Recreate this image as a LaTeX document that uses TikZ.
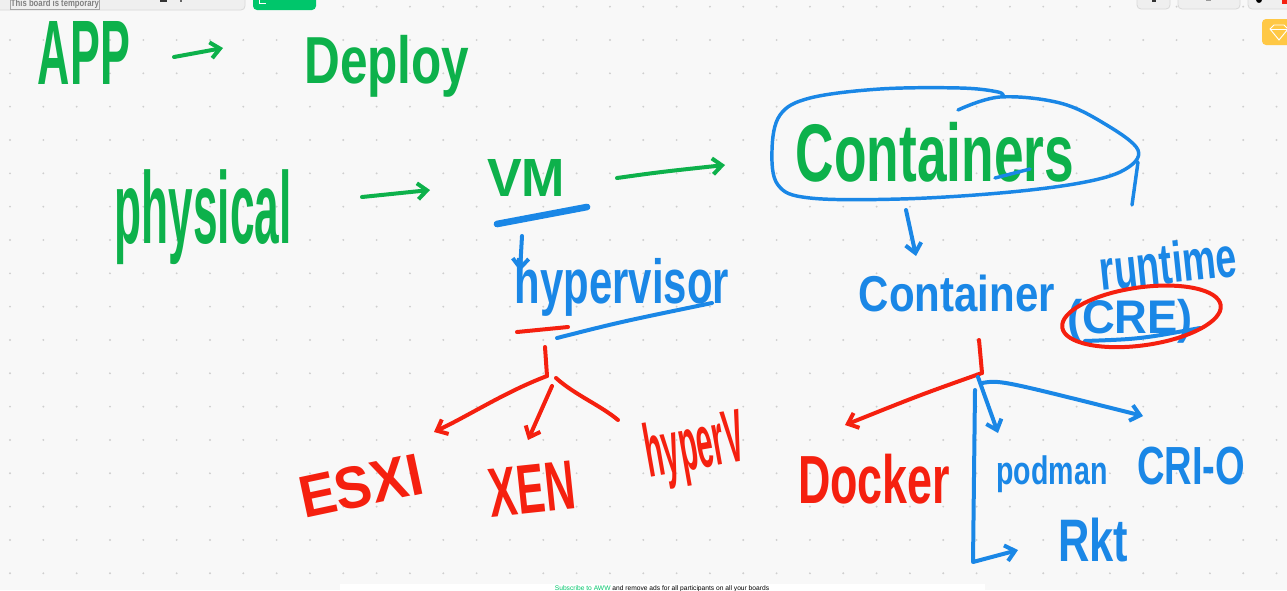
\documentclass[tikz,border=0pt]{standalone}
\usepackage{fontspec}
\setmainfont{Liberation Sans}
\usepackage{graphicx}
\usetikzlibrary{arrows.meta}
\newdimen\pxu \pxu=0.75pt
\newcommand{\hw}[3]{\resizebox*{#1\pxu}{#2\pxu}{#3}}
\definecolor{mgreen}{HTML}{0DB14B}
\definecolor{mblue}{HTML}{1A87E6}
\definecolor{mred}{HTML}{F5200F}
\definecolor{bgc}{HTML}{F8F8F8}
\definecolor{dotc}{HTML}{CFCFCF}
\definecolor{panel}{HTML}{EFEFEF}
\definecolor{panelline}{HTML}{D9D9D9}
\definecolor{btngreen}{HTML}{00C66B}
\definecolor{badge}{HTML}{FFC845}
\begin{document}
\begin{tikzpicture}[x=0.75pt,y=-0.75pt,
  hand/.style={inner sep=0pt,outer sep=0pt,font=\bfseries},
  stroke/.style={line width=3pt,line cap=round,line join=round},
  arr/.style={stroke,-{Straight Barb[length=7pt,width=12pt]}},
  ui/.style={fill=panel,draw=panelline,line width=0.6pt,rounded corners=3pt}]
\useasboundingbox (0,0) rectangle (1287,590);
\fill[bgc] (0,0) rectangle (1287,590);
% dot grid
\foreach \i in {0,...,38}{\foreach \j in {0,...,17}{
  \fill[dotc] (10+33.33*\i,6.67+33.33*\j) circle (0.8pt);}}

% ---- UI chrome ----
\draw[ui] (-6,-8) rectangle (245,10);
\node[draw=gray!70,line width=0.5pt,inner sep=0.6pt,text=gray] (tmp) at (55,4)
  {\resizebox{88\pxu}{7\pxu}{\bfseries This board is temporary}};
\fill[black!80] (160,-2) rectangle (167,2);
\fill[black!60] (180,0) rectangle (182,2);
\fill[btngreen,rounded corners=3pt] (253,-8) rectangle (316,10);
\draw[white,line width=0.6pt] (259,-2) -- (259,3) -- (266,3);
\draw[ui] (1137,-8) rectangle (1170,9);
\draw[ui] (1178,-8) rectangle (1240,9);
\draw[ui] (1248,-8) rectangle (1295,9);
\fill[black!80] (1152,-2) rectangle (1156,2);
\fill[black!40] (1206,-2) rectangle (1211,1);
\fill[black] (1259,0) circle (2.2pt);
\fill[mred] (1282,-2) rectangle (1287,4);
\fill[badge,rounded corners=3pt] (1262,19) rectangle (1295,45);
\draw[white,line width=0.7pt] (1270,29) -- (1274,25) -- (1284,25) -- (1288,29) -- (1279,40) -- cycle;
\draw[white,line width=0.5pt] (1270,29) -- (1288,29);
\fill[white] (340,584) rectangle (985,596);
\node[inner sep=0pt,font=\tiny] (ad) at (662,589)
  {\textcolor{btngreen}{Subscribe to AWW} and remove ads for all participants on all your boards};

% ---- green texts ----
\node[hand,text=mgreen] (app) at (84,53) {\hw{92}{63}{APP}};
\node[hand,text=mgreen] (deploy) at (387,66) {\hw{165}{62}{Deploy}};
\node[hand,text=mgreen] (phys) at (203,217) {\hw{177}{95}{physical}};
\node[hand,text=mgreen] (vm) at (526,178) {\hw{78}{37}{VM}};
\node[hand,text=mgreen] (cont) at (935,152) {\hw{278}{60}{Containers}};

\coordinate (a1) at (174,57);  \coordinate (a2) at (223,48);
\coordinate (p1) at (362,197); \coordinate (p2) at (430,190);
\coordinate (v1) at (617,178); \coordinate (v2) at (725,165);
\draw[arr,mgreen] (a1) -- (a2);
\draw[arr,mgreen] (p1) -- (p2);
\draw[arr,mgreen] (v1) .. controls (660,172) .. (v2);

% ---- containers blob ----
\draw[stroke,mblue,line width=2.6pt] plot[smooth,tension=0.6] coordinates
 {(958,110) (1000,97) (1060,103) (1105,124) (1138,150) (1124,170) (1080,183)
  (1000,193) (900,199) (810,198) (778,185) (772,150) (780,115) (810,98)
  (880,89) (960,88) (998,92) (1003,97)};
\coordinate (t1) at (1138,162); \coordinate (t2) at (1132,205);
\draw[stroke,mblue,line width=2.6pt] (t1) -- (t2);
\coordinate (u1) at (995,178); \coordinate (u2) at (1030,169);
\draw[stroke,mblue,line width=2.6pt] (u1) -- (u2);

% ---- VM branch ----
\coordinate (vu1) at (497,224); \coordinate (vu2) at (587,207);
\draw[mblue,line width=5pt,line cap=round] (vu1) -- (vu2);
\coordinate (h0) at (522,236);
\node[hand,text=mblue] (hyper) at (622,287) {\hw{214}{58}{hypervisor}};
\draw[arr,mblue] (h0) -- (520,271);
\coordinate (r1) at (517,332); \coordinate (r2) at (568,327);
\draw[stroke,mred] (r1) -- (r2);
\coordinate (b1) at (557,338); \coordinate (b2) at (712,303);
\draw[stroke,mblue] (b1) .. controls (620,322) .. (b2);

% hypervisor tree
\coordinate (hs1) at (545,347); \coordinate (hs2) at (547,376);
\draw[stroke,mred] (hs1) -- (hs2);
\node[hand,text=mred,rotate=12] (esxi) at (361,486) {\hw{125}{42}{ESXI}};
\node[hand,text=mred,rotate=6] (xen) at (532,489) {\hw{86}{48}{XEN}};
\node[hand,text=mred,rotate=10] (hyperv) at (695,450) {\hw{100}{70}{hyperV}};
\draw[arr,mred] (hs2) .. controls (505,392) and (470,415) .. (434,432);
\draw[arr,mred] (552,386) -- (528,440);
\draw[stroke,mred] (556,378) .. controls (575,395) and (600,405) .. (618,420);

% ---- container runtime ----
\coordinate (c1) at (906,210);
\node[hand,text=mblue] (crt1) at (957,293) {\hw{196}{37}{Container}};
\node[hand,text=mblue,rotate=6] (crt2) at (1168,263) {\hw{138}{42}{runtime}};
\node[hand,text=mblue] (cre) at (1130,321) {\hw{126}{44}{(CRE)}};
\draw[arr,mblue] (c1) -- (916,256);
\draw[stroke,mblue] (1085,341) .. controls (1140,339) .. (1200,328);
\draw[stroke,mred,rotate around={8:(cre.center)}] (1142,318) ellipse (80 and 29);

% runtime tree
\coordinate (rs1) at (979,340); \coordinate (rs2) at (982,373);
\draw[stroke,mred] (rs1) -- (rs2);
\node[hand,text=mred] (docker) at (874,479) {\hw{152}{50}{Docker}};
\node[hand,text=mblue] (podman) at (1052,474) {\hw{111}{37}{podman}};
\node[hand,text=mblue] (crio) at (1191,466) {\hw{108}{38}{CRI-O}};
\node[hand,text=mblue] (rkt) at (1093,540) {\hw{70}{44}{Rkt}};
\draw[arr,mred] (rs2) .. controls (920,395) .. (845,425);
\draw[arr,mblue] (978,377) -- (998,433);
\draw[arr,mblue] (982,383) .. controls (1000,380) .. (1143,416);
\coordinate (k1) at (975,390); \coordinate (k2) at (973,562);
\draw[arr,mblue] (k1) -- (k2) -- (1018,550);
\end{tikzpicture}
\end{document}
